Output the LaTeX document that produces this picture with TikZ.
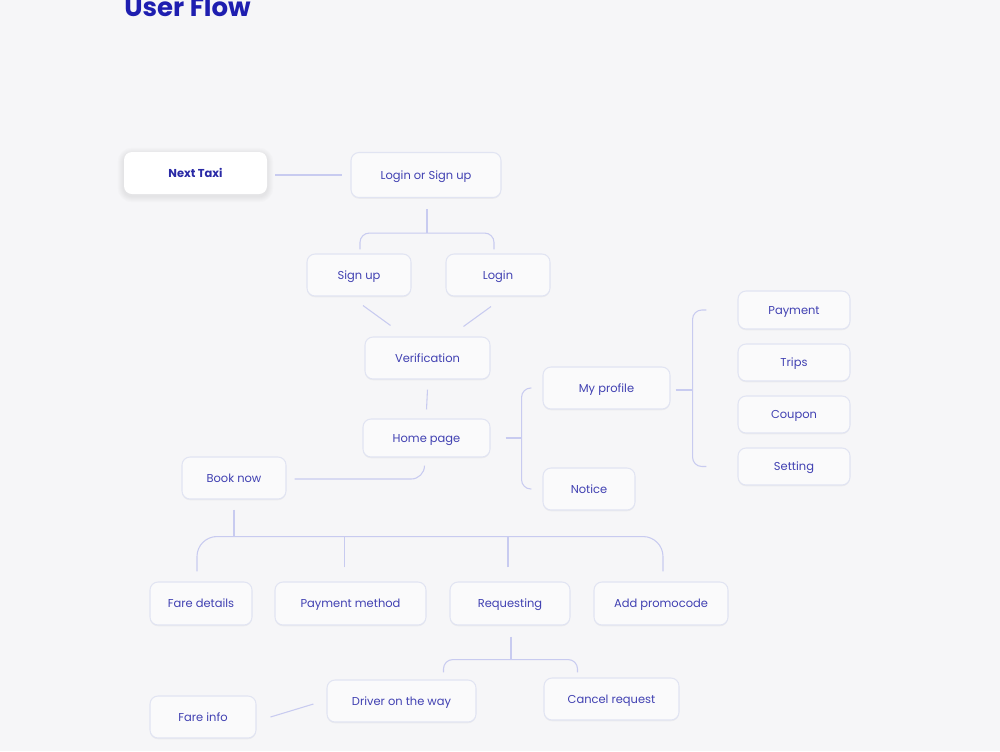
\documentclass[tikz,border=0pt]{standalone}
\usepackage{fontspec}
\setmainfont{Poppins}
\usetikzlibrary{calc,shadows}
\definecolor{bgc}{HTML}{F6F6F8}
\definecolor{txt}{HTML}{4141B2}
\definecolor{ttl}{HTML}{1E1EB0}
\definecolor{ntc}{HTML}{2A2AA6}
\definecolor{brd}{HTML}{E1E4F2}
\definecolor{ln}{HTML}{C8CBF0}
\pgfdeclarelayer{bglayer}
\pgfsetlayers{bglayer,main}
\tikzset{
  box/.style 2 args={draw=brd, line width=0.8pt, fill=white!40!bgc, rounded corners=6pt,
    minimum width=#1*0.75pt, minimum height=#2*0.75pt, inner sep=0pt,
    text height=6.4pt, text depth=0pt,
    text=txt, font=\fontsize{8.6}{10}\selectfont,
    drop shadow={shadow xshift=0pt, shadow yshift=-1pt, opacity=0.04, fill=black}},
  mainbox/.style 2 args={fill=white, rounded corners=6pt,
    minimum width=#1*0.75pt, minimum height=#2*0.75pt, inner sep=0pt,
    text height=6.4pt, text depth=0pt,
    text=ntc, font=\fontsize{8.6}{10}\selectfont\bfseries},
  conn/.style={draw=ln, line width=0.8pt},
}
\begin{document}
\begin{tikzpicture}[x=0.75pt,y=-0.75pt]
\begin{pgfonlayer}{bglayer}
\fill[bgc] (0,0) rectangle (1000,751);
\end{pgfonlayer}
\useasboundingbox (0,0) rectangle (1000,751);
\begin{scope}
\clip (0,0) rectangle (1000,751);
\node[anchor=base west, text=ttl, font=\fontsize{19.5}{22}\selectfont\bfseries, inner sep=0pt] (title) at (124,16) {User Flow};
\end{scope}

% nodes
\node[mainbox={143}{42}] (nt) at (195.5,173) {Next Taxi};
\node[box={150}{45}] (login) at (426,175) {Login or Sign up};
\node[box={104}{42}] (signup) at (359,275) {Sign up};
\node[box={104}{42}] (lg) at (498,275) {Login};
\node[box={125}{42}] (ver) at (427.5,358) {Verification};
\node[box={127}{38}] (home) at (426.5,438) {Home page};
\node[box={127}{42}] (prof) at (606.5,388) {My profile};
\node[box={92}{42}] (notice) at (589,489) {Notice};
\node[box={112}{38}] (pay) at (794,310) {Payment};
\node[box={112}{37}] (trips) at (794,362.5) {Trips};
\node[box={112}{37}] (coupon) at (794,414.5) {Coupon};
\node[box={112}{37}] (setting) at (794,466.5) {Setting};
\node[box={104}{42}] (book) at (234,478) {Book now};
\node[box={102}{43}] (fare) at (201,603.5) {Fare details};
\node[box={151}{43}] (pm) at (350.5,603.5) {Payment method};
\node[box={120}{43}] (req) at (510,603.5) {Requesting};
\node[box={134}{43}] (addp) at (661,603.5) {Add promocode};
\node[box={149}{42}] (drv) at (401.5,701) {Driver on the way};
\node[box={135}{42}] (cancel) at (611.5,699) {Cancel request};
\node[box={106}{42}] (finfo) at (203,717) {Fare info};

% soft shadow of the main box
\begin{pgfonlayer}{bglayer}
\foreach \k in {1,...,6}
  \fill[black, opacity=0.012, rounded corners=6pt+\k*0.75pt]
    ($(nt.south west)+(-\k,\k+2)$) rectangle ($(nt.north east)+(\k,-\k+2)$);
\end{pgfonlayer}

% connectors
\draw[conn] ($(nt.east)+(8,2)$) -- ($(login.west)+(-8,0)$);
\draw[conn] ($(login.south)+(1,11)$) -- ($(login.south)+(1,35)$) coordinate (j1);
\draw[conn, rounded corners=7pt] ($(signup.north)+(1,-4)$) |- (j1) -| ($(lg.north)+(-4,-4)$);
\draw[conn] ($(signup.south)+(4,9)$) -- ($(ver.north)+(-37,-11)$);
\draw[conn] ($(lg.south)+(-7,10)$) -- ($(ver.north)+(36,-10)$);
\draw[conn] ($(ver.south)+(0,10)$) -- ($(home.north)+(0,-9)$);
% home -> profile/notice
\draw[conn] ($(home.east)+(15,0)$) -- ($(home.east)+(31,0)$) coordinate (j2);
\draw[conn, rounded corners=7pt] ($(prof.west)+(-11,0)$) -| (j2) |- ($(notice.west)+(-11,0)$);
% profile -> items
\draw[conn] ($(prof.east)+(5,2)$) -- ($(prof.east)+(22,2)$) coordinate (j3);
\draw[conn, rounded corners=7pt] ($(pay.west)+(-31,0)$) -| (j3) |- ($(setting.west)+(-31,0)$);
% home -> book now
\draw[conn, rounded corners=10pt] ($(book.east)+(8,1)$) -| ($(home.south)+(-2,8)$);
% book now -> four
\draw[conn] ($(book.south)+(0,10)$) -- ($(book.south)+(0,37)$) coordinate (j4);
\draw[conn, rounded corners=15pt] ($(fare.north)+(-4,-10)$) |- (j4) -| ($(addp.north)+(2,-10)$);
\draw[conn] ($(pm.north)+(-6,-14)$) -- ($(pm.north |- j4)+(-6,0)$);
\draw[conn] ($(req.north)+(-2,-14)$) -- ($(req.north |- j4)+(-2,0)$);
% requesting -> driver/cancel
\draw[conn] ($(req.south)+(1,11)$) -- ($(req.south)+(1,34)$) coordinate (j5);
\draw[conn, rounded corners=7pt] ($(drv.north)+(42,-7)$) |- (j5) -| ($(cancel.north)+(-34,-5)$);
% fare info - driver
\draw[conn] ($(finfo.east)+(14,0)$) -- ($(drv.west)+(-13,3)$);
\end{tikzpicture}
\end{document}
